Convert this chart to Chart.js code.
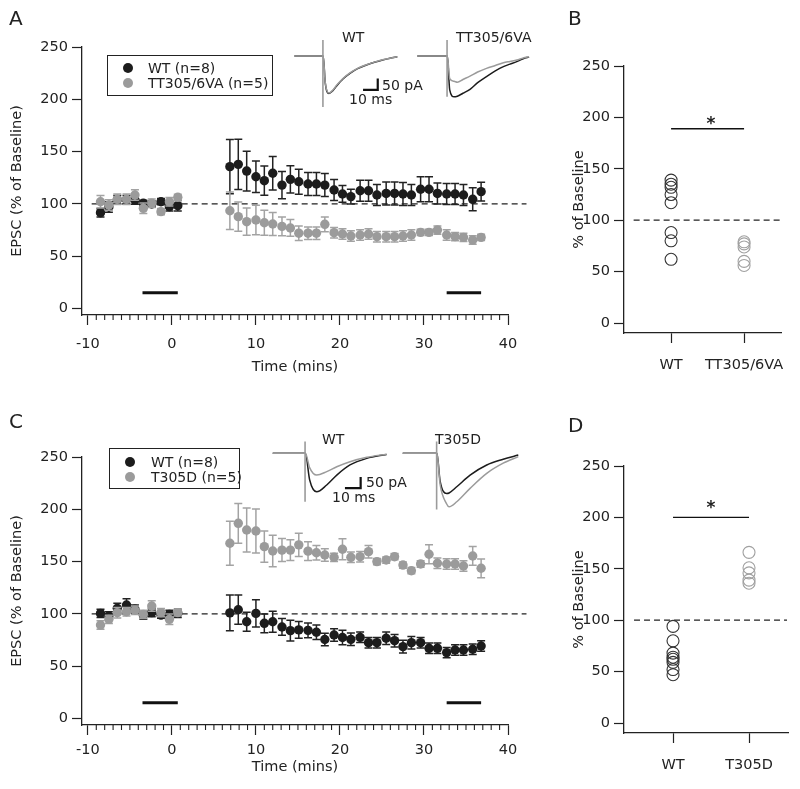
<!DOCTYPE html>
<html><head><meta charset="utf-8">
<script src="https://cdn.jsdelivr.net/npm/chart.js@4.4.1/dist/chart.umd.min.js"></script>
<style>
body{margin:0;background:#fff;width:800px;height:789px;position:relative;overflow:hidden;font-family:"DejaVu Sans",sans-serif;color:#222}
canvas{position:absolute;display:block}
.t{position:absolute;white-space:nowrap;line-height:1}
.box{position:absolute;border:1.3px solid #222;box-sizing:border-box}
.dot{position:absolute;width:10px;height:10px;border-radius:50%;transform:translate(-50%,-50%)}
</style></head><body>
<canvas id="cA" width="545" height="390" style="left:0;top:0"></canvas>
<canvas id="cB" width="255" height="390" style="left:545px;top:0"></canvas>
<canvas id="cC" width="545" height="390" style="left:0;top:400px"></canvas>
<canvas id="cD" width="255" height="389" style="left:545px;top:400px"></canvas>
<canvas id="iA1" width="112" height="82" style="left:290px;top:30px"></canvas>
<canvas id="iA2" width="125" height="82" style="left:410px;top:30px"></canvas>
<canvas id="iC1" width="125" height="80" style="left:268px;top:435px"></canvas>
<canvas id="iC2" width="125" height="80" style="left:398px;top:435px"></canvas>
<script>
// ---------- DATA ----------
const xTicks = [-10, 0, 10, 20, 30, 40];
const yTicks = [0, 50, 100, 150, 200, 250];
const baseTimes = [-8.5, -7.5, -6.5, -5.4, -4.4, -3.4, -2.4, -1.3, -0.3, 0.7];
const postTimes = [6.9, 7.9, 8.9, 10.0, 11.0, 12.0, 13.1, 14.1, 15.1, 16.2, 17.2, 18.2, 19.3, 20.3, 21.3,
                   22.4, 23.4, 24.4, 25.5, 26.5, 27.5, 28.5, 29.6, 30.6, 31.6, 32.7, 33.7, 34.7, 35.8, 36.8];
const windowsX = [[-3.5, 0.7], [32.7, 36.8]];
const windowLevel = 15;
const refLevel = 100;

// Panel A: WT vs TT305/6VA (EPSC, % of baseline)
const aWT = [91.6, 97, 104, 104, 103.7, 100.6, 99.9, 102.1, 97.3, 98.3,
  135.6, 137.8, 131.4, 126, 122.2, 129.3, 118, 123.5, 121.2, 119, 119, 118, 113.3, 109.5, 107,
  112.6, 112.6, 108.5, 110, 110, 109.5, 108.5, 114, 114, 110, 109.5, 109.5, 108.5, 104.4, 111.7];
const aWTsem = [4, 5, 4, 4, 4, 3, 3, 3, 4, 5,
  26, 24, 19, 15, 14, 16, 13, 13, 12, 11, 11, 11, 10, 8, 7, 10, 10, 10, 11, 11, 11, 10, 12, 12, 10, 10, 10, 10, 11, 9];
const aMut = [102.1, 99, 104.4, 104.4, 108.5, 95.8, 100.6, 92.6, 102.1, 106.3,
  93.5, 87.8, 83, 84.6, 82, 80.8, 78.5, 77, 72, 72, 72, 80.5, 72.5, 71.2, 69.3,
  70.3, 71.2, 68.7, 68.7, 68.7, 69.3, 70.3, 72.8, 72.8, 75, 70.3, 68.7, 68, 65.5, 68];
const aMutSem = [6, 5, 5, 5, 5, 5, 4, 3, 4, 3,
  18, 14, 13, 14, 12, 11, 9, 8, 7, 6, 6, 7, 5, 5, 5, 5, 5, 5, 5, 5, 5, 5, 3, 3, 4, 5, 4, 4, 4, 3];

// Panel C: WT vs T305D
const cWT = [100.5, 98, 105.3, 108.5, 104.4, 98.9, 101.2, 98.9, 99.6, 100.5,
  101, 104, 92.5, 100.5, 91, 92.5, 87.5, 84, 84.7, 84.3, 82.5, 75.5, 79.8, 77.4, 75.7,
  77.6, 72.5, 72.5, 76.7, 74.4, 68.7, 72.5, 72.5, 67.1, 67.1, 63, 65.5, 65.5, 66.2, 69.3];
const cWTsem = [4, 4, 5, 6, 4, 4, 4, 3, 4, 4,
  17, 14, 9, 13, 9, 10, 8, 10, 8, 7, 7, 6, 6, 7, 6, 5, 5, 5, 6, 6, 6, 6, 5, 5, 5, 5, 5, 5, 5, 5];
const cMut = [89.4, 94.8, 101.2, 102.1, 103.5, 99.6, 107.5, 101.2, 94.8, 101.2,
  167.5, 186.6, 180.2, 179.3, 164.3, 160.1, 161, 161, 166, 160, 158.5, 156.3, 154.1, 161.8, 154.1,
  154.7, 159.5, 150, 151.5, 154.7, 146.7, 141.3, 147.7, 157, 148.4, 147.7, 147.7, 145.8, 155.4, 143.6];
const cMutSem = [4, 4, 5, 4, 4, 4, 5, 4, 5, 3,
  21, 19, 21, 21, 15, 15, 11, 10, 11, 9, 7, 6, 4, 10, 5, 5, 6, 3, 3, 3, 3, 3, 3, 9, 5, 5, 5, 5, 9, 9];

// Panels B, D: individual cells (% of baseline)
const bCats = ['WT', 'TT305/6VA'];
const bWT = [139, 135, 132, 125, 117, 88, 80, 62];
const bMut = [79, 77, 74, 60, 56];
const bSig = 189;
const dCats = ['WT', 'T305D'];
const dWT = [94, 80, 68, 64, 62, 59, 52, 47];
const dMut = [166, 151, 146, 139, 136];
const dSig = 200;

// Example traces (ms, pA); black = baseline, gray = after
const tA1 = [3, 10, 17, 22.6, 24, 26.5, 29, 31.7, 36, 40.8, 46, 52, 58, 63, 68, 73];
const a1Before = [0, 0, 0, 0, -120, -166, -155, -133, -102, -77, -56, -40, -27, -18, -10, -3];
const a1After  = [0, 0, 0, 0, -118, -164, -152, -130, -100, -75, -55, -39, -26, -17, -10, -3];
const a1Artifact = [22.4, 71, -226];
const tA2 = [5, 12, 19, 25.4, 27, 30, 32.2, 36, 40.8, 46, 52, 58, 63.5, 68, 72.6, 77, 81];
const a2Before = [0, 0, 0, 0, -150, -181, -178, -165, -148, -118, -91, -66, -47, -36, -25, -12, -5];
const a2After  = [0, 0, 0, 0, -100, -112, -116, -104, -89, -71, -55, -42, -30, -24, -18, -9, -3];
const a2Artifact = [25.2, 71, -181];
const scaleA = [[49.7, -150], [59.7, -150], [59.7, -100]];
const tC1 = [3, 10, 17, 23.8, 26.5, 31, 37.4, 43.8, 52.2, 62.9, 75.5];
const c1Before = [0, 0, 0, 0, -120, -175, -144, -99, -53, -23, -5];
const c1After  = [0, 0, 0, 0, -65, -99, -83, -61, -38, -18, -4];
const c1Artifact = [23.6, 53, -220];
const tC2 = [3, 10, 17, 24.8, 26.8, 31, 32.5, 37.4, 45.9, 56.5, 67, 76.6];
const c2Before = [0, 0, 0, 0, -125, -182, -180, -152, -99, -53, -27, -8];
const c2After  = [0, 0, 0, 0, -140, -230, -243, -220, -159, -91, -45, -15];
const c2Artifact = [24.6, 53, -255];
const scaleC = [[49, -158], [59, -158], [59, -108]];

// ---------- STYLE / HELPERS ----------
const BLACK = '#1c1c1c', GRAY = '#9b9b9b', AX = '#222';
Chart.defaults.font.family = "'DejaVu Sans', sans-serif";
Chart.defaults.font.size = 14.5;
Chart.defaults.color = AX;
Chart.defaults.animation = false;
Chart.defaults.events = [];
Chart.defaults.plugins.legend.display = false;
Chart.defaults.plugins.tooltip.enabled = false;

const allTimes = baseTimes.concat(postTimes);
const pts = (xs, ys) => xs.map((x, i) => ({x, y: ys[i]}));

const errorBars = {
  id: 'errorBars',
  beforeDatasetDraw(chart, args) {
    const ds = chart.data.datasets[args.index];
    if (!ds.errors) return;
    const ys = chart.scales.y, ctx = chart.ctx;
    ctx.save(); ctx.strokeStyle = ds.errColor; ctx.lineWidth = 1.5;
    args.meta.data.forEach((el, j) => {
      const v = ds.data[j].y, e = ds.errors[j];
      const x = el.x, yt = ys.getPixelForValue(v + e), yb = ys.getPixelForValue(v - e);
      ctx.beginPath();
      ctx.moveTo(x, yt); ctx.lineTo(x, yb);
      ctx.moveTo(x - 4, yt); ctx.lineTo(x + 4, yt);
      ctx.moveTo(x - 4, yb); ctx.lineTo(x + 4, yb);
      ctx.stroke();
    });
    ctx.restore();
  }
};
const minorTicks = {
  id: 'minorTicks',
  afterDraw(chart) {
    const xs = chart.scales.x, ctx = chart.ctx, y0 = chart.chartArea.bottom;
    ctx.save(); ctx.strokeStyle = AX; ctx.lineWidth = 1.1;
    for (let v = Math.ceil(xs.min); v <= xs.max; v++) {
      if (v % 10 === 0) continue;
      const px = xs.getPixelForValue(v);
      ctx.beginPath(); ctx.moveTo(px, y0); ctx.lineTo(px, y0 + 5); ctx.stroke();
    }
    ctx.restore();
  }
};

function axisCommon(extra) {
  return Object.assign({
    type: 'linear',
    grid: {drawOnChartArea: false, drawTicks: true, tickLength: 10, color: AX, tickWidth: 1.2},
    border: {display: true, color: AX, width: 1.3},
  }, extra);
}

function timeCourse(id, wt, wtSem, mut, mutSem, top, bottom, tickPad, titlePad) {
  const H = 390;
  const datasets = [
    {data: pts(allTimes, mut), errors: mutSem, errColor: '#a3a3a3', backgroundColor: GRAY, pointRadius: 4.7, pointBorderWidth: 0},
    {data: pts(allTimes, wt), errors: wtSem, errColor: '#222', backgroundColor: BLACK, pointRadius: 4.7, pointBorderWidth: 0},
    {data: [{x: -9.55, y: refLevel}, {x: 42.2, y: refLevel}], showLine: true, borderColor: AX, borderWidth: 1.3, borderDash: [6, 4], pointRadius: 0, clip: false},
  ];
  windowsX.forEach(w => datasets.push({data: [{x: w[0], y: windowLevel}, {x: w[1], y: windowLevel}], showLine: true, borderColor: '#111', borderWidth: 3, pointRadius: 0}));
  return new Chart(document.getElementById(id), {
    type: 'scatter',
    data: {datasets},
    options: {
      responsive: false,
      layout: {padding: {left: 0, top: top, right: 37, bottom: 0}},
      scales: {
        x: axisCommon({min: -10.7, max: 40,
          afterBuildTicks: s => { s.ticks = xTicks.map(v => ({value: v})); },
          afterFit: s => { s.height = H - bottom; },
          ticks: {padding: tickPad, maxRotation: 0, autoSkip: false},
          title: {display: true, text: 'Time (mins)', padding: {top: 0, bottom: titlePad}}}),
        y: axisCommon({min: -6.2, max: 250,
          afterBuildTicks: s => { s.ticks = yTicks.map(v => ({value: v})); },
          afterFit: s => { s.width = 82; },
          ticks: {padding: 4},
          title: {display: true, text: 'EPSC (% of Baseline)', padding: {top: 9, bottom: 0}}})
      }
    },
    plugins: [errorBars, minorTicks]
  });
}

function scatterPanel(id, cats, wt, mut, sig, H) {
  const datasets = [
    {data: wt.map(v => ({x: 1, y: v})), pointRadius: 6, backgroundColor: 'rgba(0,0,0,0)', borderColor: '#333', pointBorderWidth: 1.1},
    {data: mut.map(v => ({x: 2, y: v})), pointRadius: 6, backgroundColor: 'rgba(0,0,0,0)', borderColor: '#a0a0a0', pointBorderWidth: 1.1},
    {data: [{x: 0.487, y: refLevel}, {x: 2.5, y: refLevel}], showLine: true, borderColor: AX, borderWidth: 1.3, borderDash: [6, 4], pointRadius: 0, clip: false},
    {data: [{x: 1, y: sig}, {x: 2, y: sig}], showLine: true, borderColor: '#111', borderWidth: 1.4, pointRadius: 0},
  ];
  return new Chart(document.getElementById(id), {
    type: 'scatter',
    data: {datasets},
    options: {
      responsive: false,
      layout: {padding: {left: 0, top: 66, right: 12, bottom: 0}},
      scales: {
        x: axisCommon({min: 0.355, max: 2.513,
          afterBuildTicks: s => { s.ticks = [{value: 1}, {value: 2}]; },
          afterFit: s => { s.height = H - 333; },
          ticks: {padding: 14, maxRotation: 0, autoSkip: false, callback: (v, i) => cats[i]}}),
        y: axisCommon({min: -9.7, max: 250,
          afterBuildTicks: s => { s.ticks = yTicks.map(v => ({value: v})); },
          afterFit: s => { s.width = 79; },
          ticks: {padding: 4},
          title: {display: true, text: '% of Baseline', padding: {top: 26, bottom: 0}}})
      }
    }
  });
}

function traceLine(t, v, color) {
  return {data: pts(t, v), showLine: true, pointRadius: 0, borderColor: color, borderWidth: 1.5, cubicInterpolationMode: 'monotone', clip: false};
}
function artifactLine(a) {
  return {data: [{x: a[0], y: a[1]}, {x: a[0], y: a[2]}], showLine: true, pointRadius: 0, borderColor: GRAY, borderWidth: 1.6, clip: false};
}
function scaleBar(sb) {
  return {data: sb.map(p => ({x: p[0], y: p[1]})), showLine: true, pointRadius: 0, borderColor: '#111', borderWidth: 2.2, clip: false};
}
function traceChart(id, xMax, yMin, yMax, datasets) {
  return new Chart(document.getElementById(id), {
    type: 'scatter', data: {datasets},
    options: {responsive: false, layout: {padding: 0},
      scales: {x: {type: 'linear', display: false, min: 0, max: xMax}, y: {type: 'linear', display: false, min: yMin, max: yMax}}}
  });
}

// ---------- BUILD ----------
timeCourse('cA', aWT, aWTsem, aMut, aMutSem, 47, 315, 11, 14);
timeCourse('cC', cWT, cWTsem, cMut, cMutSem, 57, 325, 7, 14);
scatterPanel('cB', bCats, bWT, bMut, bSig, 390);
scatterPanel('cD', dCats, dWT, dMut, dSig, 389);

traceChart('iA1', 76.2, -248, 115, [artifactLine(a1Artifact), traceLine(tA1, a1After, GRAY), traceLine(tA1, a1Before, BLACK), scaleBar(scaleA)]);
traceChart('iA2', 85, -248, 115, [artifactLine(a2Artifact), traceLine(tA2, a2After, GRAY), traceLine(tA2, a2Before, BLACK)]);
traceChart('iC1', 79.6, -280, 83, [artifactLine(c1Artifact), traceLine(tC1, c1After, GRAY), traceLine(tC1, c1Before, BLACK), scaleBar(scaleC)]);
traceChart('iC2', 79.6, -280, 83, [artifactLine(c2Artifact), traceLine(tC2, c2After, GRAY), traceLine(tC2, c2Before, BLACK)]);

// ---------- TEXT / LEGENDS ----------
function label(text, x, y, size, center, bold) {
  const d = document.createElement('div');
  d.className = 't'; d.textContent = text;
  d.style.left = x + 'px'; d.style.top = y + 'px'; d.style.fontSize = size + 'px';
  d.style.transform = 'translate(' + (center ? '-50%' : '0') + ',-50%)';
  if (bold) d.style.fontWeight = 'bold';
  document.body.appendChild(d);
}
function legend(x, y, w, h, rows) {
  const b = document.createElement('div');
  b.className = 'box';
  Object.assign(b.style, {left: x + 'px', top: y + 'px', width: w + 'px', height: h + 'px'});
  document.body.appendChild(b);
  rows.forEach(r => {
    const d = document.createElement('div');
    d.className = 'dot';
    Object.assign(d.style, {left: r.mx + 'px', top: r.y + 'px', background: r.color});
    document.body.appendChild(d);
    label(r.text, r.tx, r.y, 14);
  });
}
label('A', 9, 18, 20); label('B', 568, 18, 20);
label('C', 9, 421, 20); label('D', 568, 425, 20);

legend(107, 55, 166, 41, [
  {text: 'WT (n=8)', color: BLACK, mx: 128, tx: 148, y: 68},
  {text: 'TT305/6VA (n=5)', color: GRAY, mx: 128, tx: 148, y: 83}]);
legend(109, 448, 131, 41, [
  {text: 'WT (n=8)', color: BLACK, mx: 130, tx: 151, y: 462},
  {text: 'T305D (n=5)', color: GRAY, mx: 130, tx: 151, y: 477}]);

label('WT', 342, 37, 14); label('TT305/6VA', 456, 37, 14);
label('50 pA', 382, 85, 14); label('10 ms', 349, 99, 14);
label('WT', 322, 439, 14); label('T305D', 435, 439, 14);
label('50 pA', 366, 482, 14); label('10 ms', 332, 497, 14);

label('*', 711, 123, 17, true, true);
label('*', 711, 507, 17, true, true);
</script>
</body></html>
